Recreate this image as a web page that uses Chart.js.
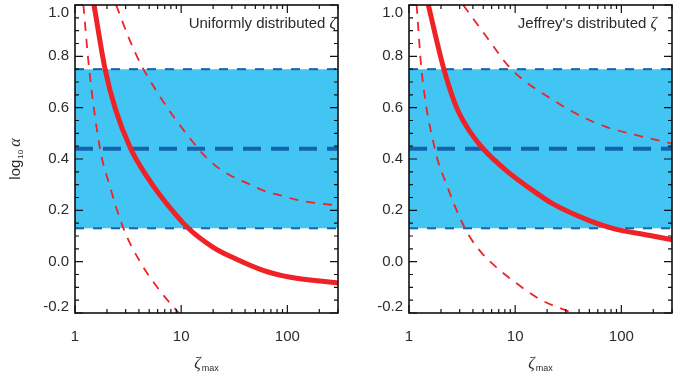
<!DOCTYPE html>
<html>
<head>
<meta charset="utf-8">
<script src="https://cdn.jsdelivr.net/npm/chart.js@4.4.1/dist/chart.umd.min.js"></script>
<style>
  html, body { margin: 0; padding: 0; background: #fff; }
  #wrap { position: relative; width: 673px; height: 378px; }
  #uniChart { position: absolute; left: 0; top: 0; }
  #jefChart { position: absolute; left: 340px; top: 0; }
</style>
</head>
<body>
<div id="wrap">
  <canvas id="uniChart" width="340" height="378"></canvas>
  <canvas id="jefChart" width="333" height="378"></canvas>
</div>
<script>
// axes
const xRange = [1, 300];
const yRange = [-0.2, 1.0];
const xLabels = [1, 10, 100];
const yLabels = [-0.2, 0.0, 0.2, 0.4, 0.6, 0.8, 1.0];

// shaded band: lower edge, middle, upper edge (log10 alpha)
const bandLevels = [0.13, 0.44, 0.75];

// uniformly distributed zeta
const uniSolidX = [1.51, 1.92, 2.38, 3.35, 4.7, 6.3, 11.7, 20, 31, 60, 107, 300];
const uniSolidY = [1.0, 0.75, 0.6, 0.44, 0.335, 0.26, 0.13, 0.056, 0.015, -0.035, -0.061, -0.083];
const uniLowX = [1.2, 1.36, 1.72, 2.11, 2.86, 4.1, 6.3, 9.5];
const uniLowY = [1.0, 0.75, 0.44, 0.30, 0.13, 0.0, -0.113, -0.2];
const uniHighX = [2.44, 3.3, 4.41, 14.5, 20.2, 29, 41.7, 59.7, 86, 123, 190, 300];
const uniHighY = [1.0, 0.86, 0.75, 0.44, 0.38, 0.336, 0.306, 0.277, 0.258, 0.241, 0.228, 0.219];

// Jeffrey's distributed zeta
const jefSolidX = [1.52, 2.13, 2.81, 3.7, 4.99, 8.26, 14.7, 22.7, 50, 82.8, 197, 300];
const jefSolidY = [1.0, 0.75, 0.6, 0.51, 0.44, 0.355, 0.277, 0.225, 0.16, 0.13, 0.10, 0.085];
const jefLowX = [1.18, 1.31, 1.75, 2.26, 3.36, 4.64, 6.66, 9.55, 17, 33.7];
const jefLowY = [1.0, 0.75, 0.44, 0.30, 0.13, 0.043, -0.022, -0.074, -0.146, -0.198];
const jefHighX = [3.24, 5.37, 9.2, 24.4, 43.3, 71.8, 148, 300];
const jefHighY = [1.0, 0.876, 0.75, 0.622, 0.564, 0.525, 0.49, 0.46];

const red = '#ee2227';
const blueLine = '#1462ad';
const blueFill = '#42c5f2';
const textColor = '#2b2b2b';
const sans = "'Liberation Sans', Arial, sans-serif";
const serif = "'Liberation Serif', 'DejaVu Serif', serif";

const framePlugin = {
  id: 'frame',
  afterDatasetsDraw(chart, args, opts) {
    const { ctx, chartArea: { left, right, top, bottom }, scales: { x, y } } = chart;
    ctx.save();

    // inward ticks on all four sides
    ctx.strokeStyle = '#111';
    ctx.lineWidth = 1.2;
    ctx.beginPath();
    const nY = Math.round((yRange[1] - yRange[0]) / 0.05);
    for (let i = 0; i <= nY; i++) {
      const py = y.getPixelForValue(yRange[0] + i * 0.05);
      const len = i % 4 === 0 ? 8 : 4;
      ctx.moveTo(left, py); ctx.lineTo(left + len, py);
      ctx.moveTo(right, py); ctx.lineTo(right - len, py);
    }
    for (let d = 1; d <= xRange[1]; d *= 10) {
      for (let m = 1; m <= 9; m++) {
        const v = m * d;
        if (v > xRange[1]) break;
        const px = x.getPixelForValue(v);
        const len = m === 1 ? 8 : 4;
        ctx.moveTo(px, bottom); ctx.lineTo(px, bottom - len);
        ctx.moveTo(px, top); ctx.lineTo(px, top + len);
      }
    }
    ctx.stroke();

    ctx.lineWidth = 1.6;
    ctx.strokeRect(left, top, right - left, bottom - top);

    // tick labels
    ctx.fillStyle = textColor;
    ctx.font = '15px ' + sans;
    ctx.textAlign = 'right';
    ctx.textBaseline = 'middle';
    yLabels.forEach(v => {
      let py = y.getPixelForValue(v);
      py = Math.min(Math.max(py, top + 8), bottom - 6);
      ctx.fillText(v.toFixed(1), left - 6, py);
    });
    ctx.textAlign = 'center';
    xLabels.forEach(v => {
      ctx.fillText(String(v), x.getPixelForValue(v), 337);
    });

    // x title: zeta_max
    ctx.textBaseline = 'alphabetic';
    ctx.textAlign = 'left';
    ctx.font = 'italic 16px ' + serif;
    const zw = ctx.measureText('ζ').width;
    ctx.font = '9px ' + sans;
    const mw = ctx.measureText('max').width;
    const cx = (left + right) / 2;
    let sx = cx - (zw + mw + 1) / 2;
    ctx.font = 'italic 16px ' + serif;
    ctx.fillText('ζ', sx, 368);
    ctx.font = '9px ' + sans;
    ctx.fillText('max', sx + zw + 1, 371);

    // panel caption
    ctx.font = '15px ' + sans;
    const cap = opts.caption + ' ';
    const cw = ctx.measureText(cap).width;
    ctx.font = 'italic 16px ' + serif;
    const gw = ctx.measureText('ζ').width;
    const cStart = opts.captionRight - cw - gw;
    ctx.font = '15px ' + sans;
    ctx.fillText(cap, cStart, 28);
    ctx.font = 'italic 16px ' + serif;
    ctx.fillText('ζ', cStart + cw, 28);

    // y title: log10 alpha
    if (opts.yTitle) {
      ctx.translate(15, (top + bottom) / 2);
      ctx.rotate(-Math.PI / 2);
      ctx.font = '15px ' + sans;
      const lw = ctx.measureText('log').width;
      ctx.font = '8px ' + sans;
      const tw = ctx.measureText('10').width;
      ctx.font = 'italic 16px ' + serif;
      const aw = ctx.measureText('α').width;
      let tx = -(lw + tw + aw + 4) / 2;
      ctx.font = '15px ' + sans;
      ctx.fillText('log', tx, 5);
      ctx.font = '8px ' + sans;
      ctx.fillText('10', tx + lw + 1, 8);
      ctx.font = 'italic 16px ' + serif;
      ctx.fillText('α', tx + lw + tw + 4, 5);
    }
    ctx.restore();
  }
};

function pts(xs, ys) {
  return xs.map((v, i) => ({ x: v, y: ys[i] }));
}
function flat(v) {
  return xRange.map(x => ({ x: x, y: v }));
}

function makePanel(id, solidX, solidY, lowX, lowY, highX, highY, caption, captionRight, padLeft, padRight, yTitle) {
  const curve = { pointRadius: 0, fill: false, cubicInterpolationMode: 'monotone', borderColor: red, clip: 0 };
  const hline = { pointRadius: 0, borderColor: blueLine, clip: 0 };
  return new Chart(document.getElementById(id).getContext('2d'), {
    type: 'line',
    data: {
      datasets: [
        Object.assign({ data: pts(solidX, solidY), borderWidth: 5 }, curve),
        Object.assign({ data: pts(lowX, lowY), borderWidth: 1.8, borderDash: [9, 8] }, curve),
        Object.assign({ data: pts(highX, highY), borderWidth: 1.8, borderDash: [9, 8] }, curve),
        Object.assign({ data: flat(bandLevels[1]), borderWidth: 4, borderDash: [18, 10], fill: false }, hline),
        Object.assign({ data: flat(bandLevels[2]), borderWidth: 2, borderDash: [9, 9],
                        fill: { value: bandLevels[0] }, backgroundColor: blueFill }, hline),
        Object.assign({ data: flat(bandLevels[0]), borderWidth: 2, borderDash: [9, 9], fill: false }, hline)
      ]
    },
    options: {
      responsive: false,
      animation: false,
      layout: { padding: { left: padLeft, right: padRight, top: 5, bottom: 65 } },
      scales: {
        x: { type: 'logarithmic', min: xRange[0], max: xRange[1], display: false },
        y: { type: 'linear', min: yRange[0], max: yRange[1], display: false }
      },
      plugins: {
        legend: { display: false },
        tooltip: { enabled: false },
        filler: { drawTime: 'beforeDatasetsDraw' },
        frame: { caption: caption, captionRight: captionRight, yTitle: yTitle }
      }
    },
    plugins: [framePlugin]
  });
}

makePanel('uniChart', uniSolidX, uniSolidY, uniLowX, uniLowY, uniHighX, uniHighY,
  'Uniformly distributed', 336, 75, 2, true);
makePanel('jefChart', jefSolidX, jefSolidY, jefLowX, jefLowY, jefHighX, jefHighY,
  "Jeffrey's distributed", 317, 69, 1, false);
</script>
</body>
</html>
